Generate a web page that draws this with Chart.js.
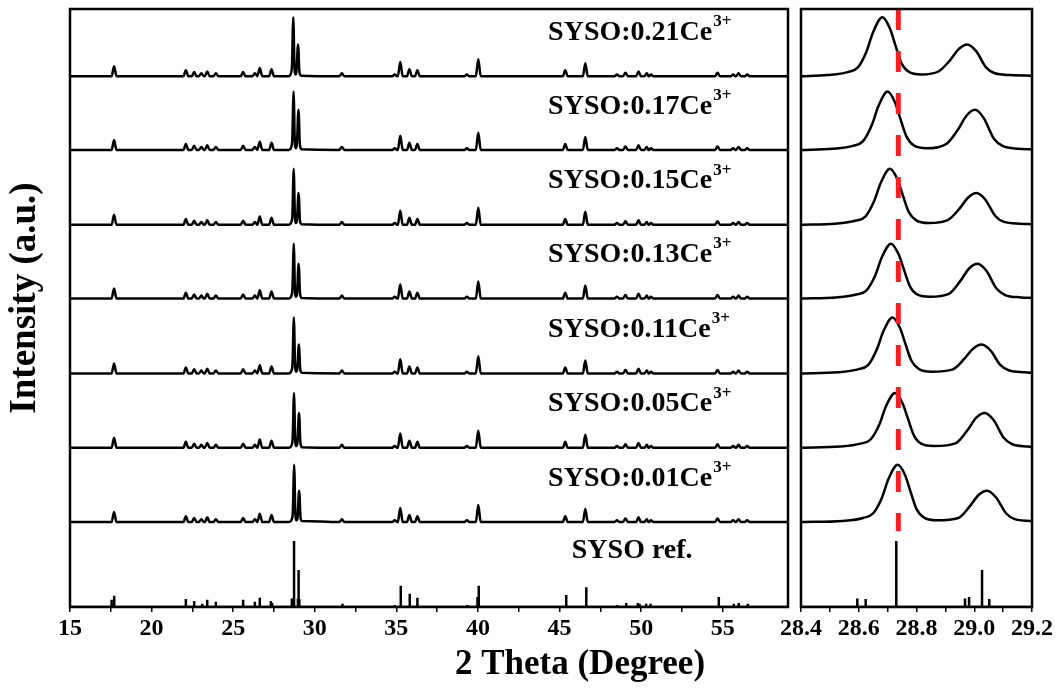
<!DOCTYPE html>
<html><head><meta charset="utf-8">
<script src="https://cdn.jsdelivr.net/npm/chart.js@4.4.1/dist/chart.umd.min.js"></script>
<style>
html,body{margin:0;padding:0;background:#fff;}
#wrap{position:relative;width:1059px;height:695px;overflow:hidden;background:#fff;}
canvas{position:absolute;top:0;}
#c1{left:0;}
#c2{left:760px;}
</style></head><body>
<div id="wrap"><canvas id="c1" width="795" height="695"></canvas><canvas id="c2" width="299" height="695"></canvas></div>
<script>
// ---------- data ----------
const sampleLabels = ['SYSO:0.21Ce','SYSO:0.17Ce','SYSO:0.15Ce','SYSO:0.13Ce','SYSO:0.11Ce','SYSO:0.05Ce','SYSO:0.01Ce'];
const superLabel = '3+';
const refLabel = 'SYSO ref.';
const xTitle = '2 Theta (Degree)';
const yTitle = 'Intensity (a.u.)';
const mainTickLabels = [15,20,25,30,35,40,45,50,55];
const zoomTickLabels = [28.4,28.6,28.8,29.0,29.2];

// reference pattern sticks (2θ, relative intensity %)
const refPos = [17.55,17.71,22.10,22.61,23.10,23.41,23.94,25.61,26.33,26.63,27.31,27.39,28.595,28.624,28.73,28.968,28.982,29.027,29.052,31.70,34.90,35.27,35.82,36.29,39.35,39.97,40.05,45.41,46.64,48.54,49.09,49.80,49.90,50.31,50.58,53.78,54.76,55.68,55.98,56.54];
const refInt = [11,17,12,9,5,11,8,11,8,14,9,6,13,12,100,13,15,56,12,5,3,32,20,14,3,15,32,18,30,3,6,6,5,5,5,2,15,5,6,5];

// minor peaks of the measured patterns (outside 28.4–29.2), intensity % of strongest peak
const minorPos = [17.70,22.10,22.61,23.05,23.41,23.94,25.61,26.33,26.63,27.35,31.66,34.90,35.24,35.80,36.29,39.32,40.02,45.35,46.58,48.52,49.04,49.84,50.35,50.60,54.68,55.64,55.97,56.50];
const minorInt = [17,10,7,5,8,5,7,5,14,12,5,3,24,12,10,3,29,10,22,3,6,8,5,3,6,3,5,3];

// 28.4–29.2 profiles of each sample [2θ, intensity %]
const zoom021 = [[28.400,0],[28.492,2],[28.562,7],[28.597,15],[28.627,42],[28.650,75],[28.682,100],[28.708,81],[28.726,54],[28.747,23],[28.772,8],[28.817,3],[28.876,8],[28.916,27],[28.946,46],[28.976,54],[29.006,43],[29.041,15],[29.071,5],[29.126,2],[29.200,1]];
const zoom017 = [[28.400,0],[28.510,2],[28.580,7],[28.615,15],[28.645,42],[28.668,74],[28.700,99],[28.726,80],[28.744,53],[28.765,23],[28.790,8],[28.835,3],[28.903,10],[28.943,34],[28.973,58],[29.003,68],[29.033,54],[29.068,19],[29.098,7],[29.153,2],[29.200,1]];
const zoom015 = [[28.400,0],[28.518,2],[28.588,7],[28.623,14],[28.653,40],[28.676,71],[28.708,95],[28.734,77],[28.752,51],[28.773,22],[28.798,8],[28.843,3],[28.908,8],[28.948,27],[28.978,46],[29.008,54],[29.038,43],[29.073,15],[29.103,5],[29.158,2],[29.200,1]];
const zoom013 = [[28.400,0],[28.522,2],[28.592,7],[28.627,14],[28.657,39],[28.680,70],[28.712,93],[28.738,75],[28.756,50],[28.777,21],[28.802,7],[28.847,3],[28.912,8],[28.952,30],[28.982,51],[29.012,59],[29.042,47],[29.077,17],[29.107,6],[29.162,2],[29.200,1]];
const zoom011 = [[28.400,0],[28.527,2],[28.597,7],[28.632,14],[28.662,40],[28.685,71],[28.717,95],[28.743,77],[28.761,51],[28.782,22],[28.807,8],[28.852,3],[28.926,7],[28.966,25],[28.996,42],[29.026,49],[29.056,39],[29.091,14],[29.121,5],[29.176,2],[29.200,1]];
const zoom005 = [[28.400,0],[28.536,2],[28.606,7],[28.641,14],[28.671,39],[28.694,70],[28.726,93],[28.752,75],[28.770,50],[28.791,21],[28.816,7],[28.861,3],[28.937,8],[28.977,30],[29.007,51],[29.037,59],[29.067,47],[29.102,17],[29.132,6],[29.187,2],[29.200,1]];
const zoom001 = [[28.400,0],[28.545,2],[28.615,7],[28.650,15],[28.680,41],[28.703,73],[28.735,97],[28.761,79],[28.779,52],[28.800,22],[28.825,8],[28.870,3],[28.945,7],[28.985,27],[29.015,46],[29.045,53],[29.075,42],[29.110,15],[29.140,5],[29.195,2],[29.200,2]];
const sampleZoom = [zoom021,zoom017,zoom015,zoom013,zoom011,zoom005,zoom001];

const dashedLineX = 28.737;   // reference position of the strongest peak

// ---------- presentation constants ----------
const stackOffsets = [900,775,648,523,396,270,144];  // vertical offset of each sample trace
const refScale = 1.12;
const HW = 0.15;
const Y_MAX = 1014;
const FONT = '"Liberation Serif","Times New Roman",serif';

function buildTrace(zoomPts, off){
  const pts = [{x:15,y:off}];
  minorPos.forEach((p,i)=>{ pts.push({x:p-HW,y:off},{x:p,y:off+minorInt[i]},{x:p+HW,y:off}); });
  zoomPts.forEach(([x,y])=>pts.push({x:x,y:off+y}));
  pts.push({x:59,y:off});
  pts.sort((a,b)=>a.x-b.x);
  return pts;
}
function buildSticks(){
  const pts=[{x:14,y:0}];
  refPos.forEach((p,i)=>{ pts.push({x:p,y:0},{x:p,y:refInt[i]*refScale},{x:p,y:0}); });
  pts.push({x:60,y:0});
  return pts;
}
function zoomTrace(zoomPts, off){ return zoomPts.map(([x,y])=>({x:x,y:off+y})); }

const boxPlugin = {id:'box', afterDatasetsDraw(chart){
  const {ctx, chartArea:a} = chart;
  ctx.save(); ctx.strokeStyle='#000'; ctx.lineWidth=2.5;
  ctx.strokeRect(a.left,a.top,a.right-a.left,a.bottom-a.top);
  ctx.restore();
}};

const textPlugin = {id:'texts', afterDraw(chart){
  const {ctx} = chart;
  const xs = chart.scales.x, ys = chart.scales.y;
  ctx.save();
  ctx.fillStyle='#000';
  ctx.textBaseline='middle'; ctx.textAlign='left';
  sampleLabels.forEach((t,i)=>{
    const x = xs.getPixelForValue(44.3), y = ys.getPixelForValue(stackOffsets[i]+74);
    ctx.font = 'bold 28px '+FONT;
    ctx.fillText(t, x, y);
    const w = ctx.measureText(t).width;
    ctx.font = 'bold 17px '+FONT;
    ctx.fillText(superLabel, x+w+1, y-11);
  });
  ctx.font = 'bold 28px '+FONT;
  ctx.fillText(refLabel, xs.getPixelForValue(45.75), ys.getPixelForValue(95));
  // axis titles
  ctx.textAlign='center';
  ctx.font = 'bold 35px '+FONT;
  ctx.fillText(xTitle, 580, 665);
  ctx.translate(25, 298); ctx.rotate(-Math.PI/2);
  ctx.font = 'bold 37px '+FONT;
  ctx.fillText(yTitle, 0, 0);
  ctx.restore();
}};

const lineBase = {borderColor:'#000', borderWidth:2.5, pointRadius:0, fill:false};

function xScale(min,max,step,labels,isMain){
  return {type:'linear', min:min, max:max,
    border:{display:false},
    grid:{display:true, drawOnChartArea:false, drawTicks:true, tickLength:5, color:'#000', lineWidth:1.5},
    afterFit:(s)=>{ s.height = 88; },
    afterBuildTicks:(s)=>{ s.ticks = s.ticks.filter(t=>Math.abs(t.value/step-Math.round(t.value/step))<1e-6); },
    ticks:{stepSize:step, autoSkip:false, maxRotation:0, padding:2, color:'#000',
      font:{family:FONT, size:24, weight:'bold'},
      callback:(v)=>{ const m = labels.find(l=>Math.abs(l-v)<1e-6); return m===undefined ? '' : (isMain? String(m) : m.toFixed(1)); }}
  };
}

// ---------- left chart ----------
const leftSets = sampleZoom.map((z,i)=>Object.assign({data:buildTrace(z, stackOffsets[i]), cubicInterpolationMode:'monotone'}, lineBase));
leftSets.push(Object.assign({data:buildSticks(), tension:0}, lineBase));

new Chart(document.getElementById('c1'), {
  type:'line',
  data:{datasets:leftSets},
  options:{responsive:false, animation:false, events:[],
    layout:{padding:{left:70,right:7,top:9,bottom:0}},
    plugins:{legend:{display:false}, tooltip:{enabled:false}},
    scales:{x:xScale(15,59,2.5,mainTickLabels,true), y:{display:false, min:0, max:Y_MAX}}
  },
  plugins:[boxPlugin,textPlugin]
});

// ---------- right chart ----------
const rightSets = [Object.assign({}, lineBase, {data:[{x:dashedLineX,y:Y_MAX},{x:dashedLineX,y:129}], borderColor:'rgb(245,30,35)', borderWidth:5, borderDash:[21,21], borderCapStyle:'butt'})];
sampleZoom.forEach((z,i)=>rightSets.push(Object.assign({data:zoomTrace(z, stackOffsets[i]), cubicInterpolationMode:'monotone'}, lineBase)));
rightSets.push(Object.assign({data:buildSticks(), tension:0}, lineBase));

new Chart(document.getElementById('c2'), {
  type:'line',
  data:{datasets:rightSets},
  options:{responsive:false, animation:false, events:[],
    layout:{padding:{left:41,right:27,top:9,bottom:0}},
    plugins:{legend:{display:false}, tooltip:{enabled:false}},
    scales:{x:xScale(28.4,29.2,0.1,zoomTickLabels,false), y:{display:false, min:0, max:Y_MAX}}
  },
  plugins:[boxPlugin]
});
</script>
</body></html>
